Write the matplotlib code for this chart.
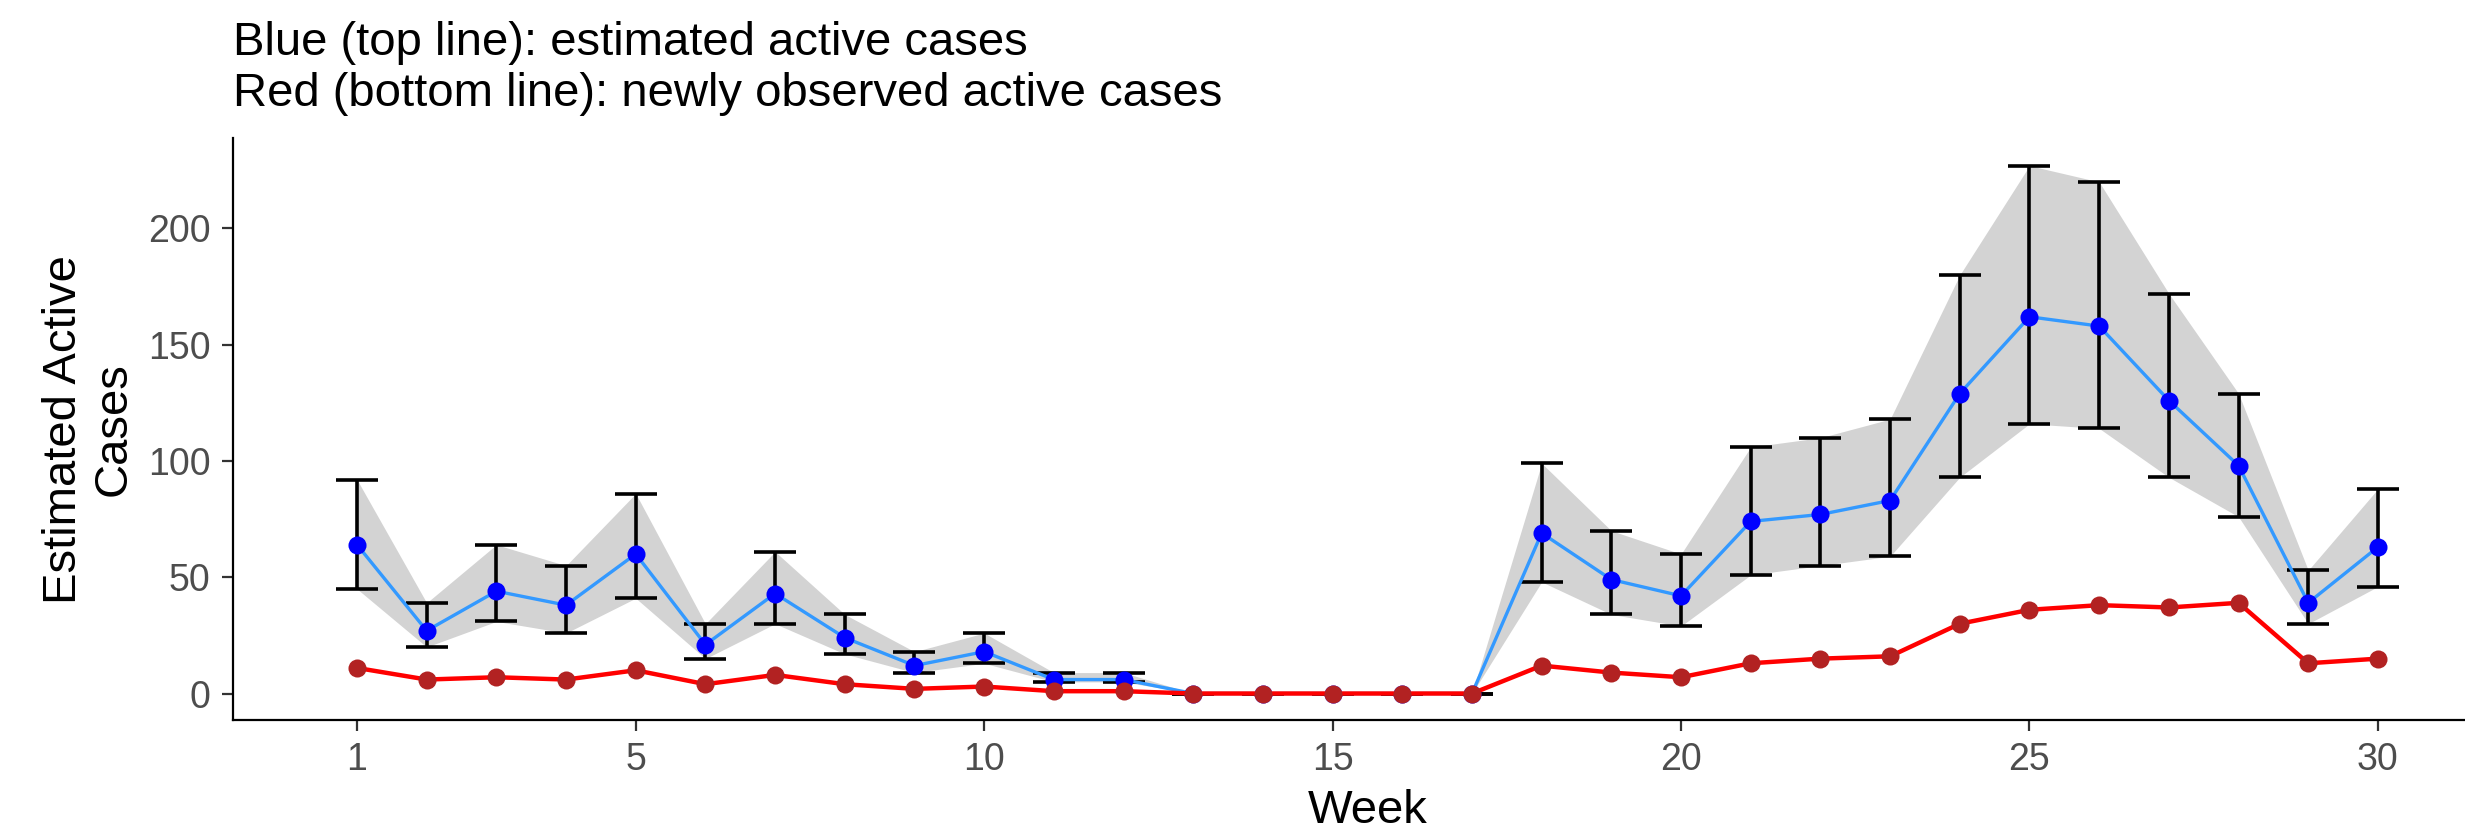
import matplotlib.pyplot as plt
import numpy as np

plt.rcParams['font.family'] = ['Liberation Sans', 'DejaVu Sans']

# weekly values
weeks = np.arange(1, 31)
estimated = [64, 27, 44, 38, 60, 21, 43, 24, 12, 18, 6, 6, 0, 0, 0,
             0, 0, 69, 49, 42, 74, 77, 83, 129, 162, 158, 126, 98, 39, 63]
upper = [92, 39, 64, 55, 86, 30, 61, 34, 18, 26, 9, 9, 0, 0, 0,
         0, 0, 99, 70, 60, 106, 110, 118, 180, 227, 220, 172, 129, 53, 88]
lower = [45, 20, 31, 26, 41, 15, 30, 17, 9, 13, 5, 5, 0, 0, 0,
         0, 0, 48, 34, 29, 51, 55, 59, 93, 116, 114, 93, 76, 30, 46]
observed = [11, 6, 7, 6, 10, 4, 8, 4, 2, 3, 1, 1, 0, 0, 0,
            0, 0, 12, 9, 7, 13, 15, 16, 30, 36, 38, 37, 39, 13, 15]

est = np.array(estimated)
yerr = [est - np.array(lower), np.array(upper) - est]

fig = plt.figure(figsize=(24.65, 8.3), dpi=100)
ax = fig.add_axes([0.0945, 0.1325, 0.9205, 0.701])

ax.fill_between(weeks, lower, upper, color='#D3D3D3', lw=0, zorder=1)
ax.errorbar(weeks, est, yerr=yerr, fmt='none', ecolor='black',
            elinewidth=2.6, capsize=15, capthick=2.6, zorder=2)
ax.plot(weeks, est, color='#3399FF', lw=2.4, zorder=3)
ax.plot(weeks, est, 'o', color='#0000FF', ms=13, mew=0, zorder=4)
ax.plot(weeks, observed, color='#FF0000', lw=3.2, zorder=5)
ax.plot(weeks, observed, 'o', color='#B22222', ms=13, mew=0, zorder=6)

ax.set_xlim(-0.78, 31.78)
ax.set_ylim(-11.4, 238.8)
ax.set_xticks([1, 5, 10, 15, 20, 25, 30])
ax.set_yticks([0, 50, 100, 150, 200])

for s in ['top', 'right']:
    ax.spines[s].set_visible(False)
for s in ['left', 'bottom']:
    ax.spines[s].set_linewidth(1.6)
ax.tick_params(labelsize=27, colors='#4D4D4D', length=8, width=1.6, pad=8)
ax.tick_params(axis='both', color='#333333')

ax.set_xlabel('Week', fontsize=34, labelpad=8)
ax.set_ylabel('Estimated Active\nCases', fontsize=34, labelpad=9, linespacing=1.17)
ax.set_title('Blue (top line): estimated active cases\n'
             'Red (bottom line): newly observed active cases',
             loc='left', fontsize=34, linespacing=1.2, pad=23)

fig.savefig('out.png', dpi=100)
